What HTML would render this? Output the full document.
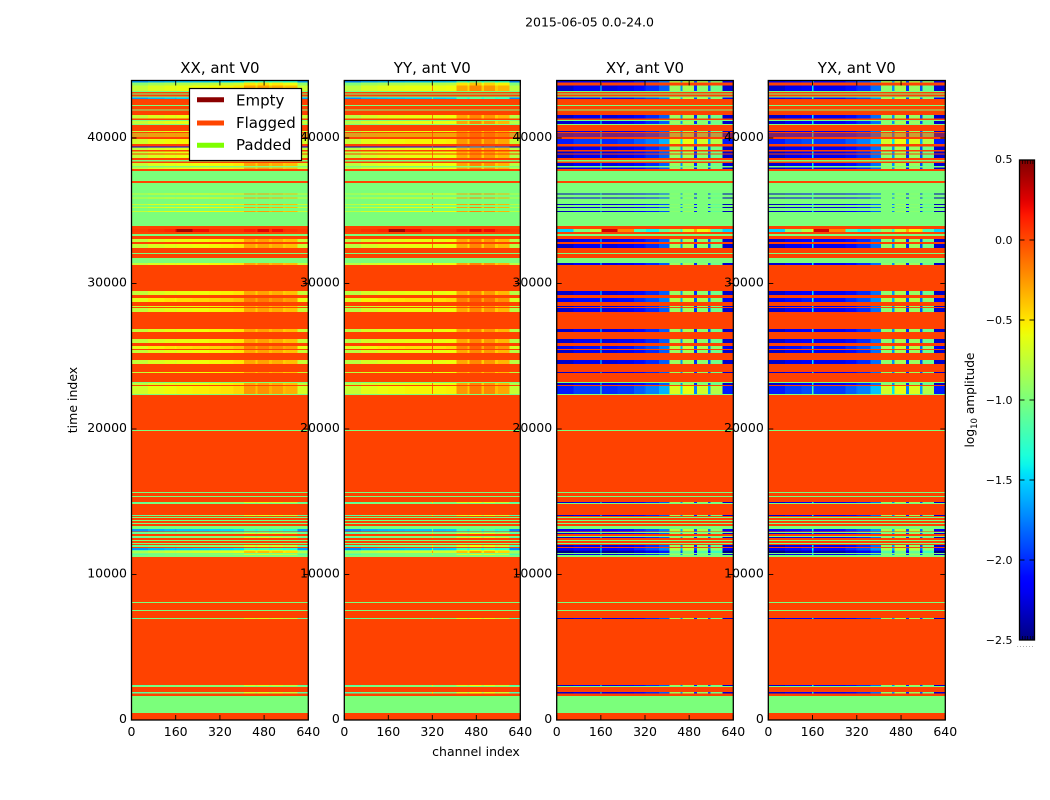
<!DOCTYPE html>
<html>
<head>
<meta charset="utf-8">
<title>2015-06-05 0.0-24.0</title>
<style>
html,body{margin:0;padding:0;background:#fff;width:1050px;height:800px;overflow:hidden}
svg{display:block}
text{font-family:"DejaVu Sans","Liberation Sans",sans-serif;fill:#000}
</style>
</head>
<body>
<svg id="fig" xmlns="http://www.w3.org/2000/svg" width="1050" height="800" viewBox="0 0 1050 800">
  <rect width="1050" height="800" fill="#fff"/>
  <text x="589.5" y="26.5" font-size="12.5" text-anchor="middle">2015-06-05 0.0-24.0</text>
  <g id="panels"></g>
  <text x="77" y="400" font-size="12.5" text-anchor="middle" transform="rotate(-90 77 400)">time index</text>
  <text x="476" y="756" font-size="12.5" text-anchor="middle">channel index</text>

  <g>
    <rect x="189.5" y="88.5" width="112" height="72" fill="#fff" stroke="#000" stroke-width="1.2"/>
    <line x1="197" x2="224" y1="99.7" y2="99.7" stroke="#8b0000" stroke-width="5"/>
    <text x="236" y="105.5" font-size="15">Empty</text>
    <line x1="197" x2="224" y1="123" y2="123" stroke="#ff4500" stroke-width="5"/>
    <text x="236" y="128" font-size="15">Flagged</text>
    <line x1="197" x2="224" y1="145.3" y2="145.3" stroke="#7fff00" stroke-width="5"/>
    <text x="236" y="150" font-size="15">Padded</text>
  </g>

  <defs><linearGradient id="jetRamp" x1="0" y1="1" x2="0" y2="0"></linearGradient></defs>
  <g id="colorbar"></g>
  <text x="974" y="400" font-size="12.2" text-anchor="middle" transform="rotate(-90 974 400)">log<tspan font-size="8.5" dy="3">10</tspan><tspan dy="-3"> amplitude</tspan></text>
</svg>
<script>
// ---- chart data ----
const panelTitles = ["XX, ant V0", "YY, ant V0", "XY, ant V0", "YX, ant V0"];
const timeTicks = [0, 10000, 20000, 30000, 40000];
const channelTicks = [0, 160, 320, 480, 640];
const colorbarTicks = [0.5, 0, -0.5, -1, -1.5, -2, -2.5];
const colorbarLabels = ["0.5", "0.0", "\u22120.5", "\u22121.0", "\u22121.5", "\u22122.0", "\u22122.5"];

// channel segment boundaries of the spectra below
const channelEdges = [0,60,120,158,163,220,280,318,323,370,408,448,456,498,508,548,558,600,640];

// log10 amplitude per channel segment, one typical spectrum per product
const xxSpectrum = [-0.74,-0.66,-0.62,-0.66,-0.6,-0.58,-0.56,-0.56,-0.54,-0.5,-0.3,-0.42,-0.28,-0.38,-0.32,-0.42,-0.38,-0.72];
const yySpectrum = [-0.78,-0.68,-0.64,-0.62,-0.62,-0.6,-0.6,-0.15,-0.6,-0.58,-0.3,-0.45,-0.2,-0.42,-0.25,-0.42,-0.35,-0.78];
const xySpectrum = [-2.3,-2.2,-2.2,-1.45,-2.25,-2.2,-2.1,-2.05,-2.0,-1.85,-0.9,-1.7,-0.85,-2.0,-0.95,-1.9,-1.05,-2.3];
const yxSpectrum = [-2.3,-2.2,-2.15,-1.45,-2.2,-2.2,-2.1,-2.05,-2.0,-1.8,-0.95,-1.7,-0.85,-2.0,-0.9,-1.9,-1.05,-2.3];
// the noisy row near t=33600
const noiseParallel = [0.05,0.08,0.12,0.2,0.42,0.2,0.1,0.1,0.08,0.08,0.15,0.1,0.25,0.1,0.2,0.1,0.08,0.05];
const noiseCross = [-1.5,-1,-0.8,-0.6,0.3,-0.2,-1.2,-1.2,-1.4,-1.1,-0.9,-1.3,-0.7,-0.3,-0.6,-0.5,-1.2,-1.5];

const flaggedValue = 0.02;
const paddedValue = -1.0;
// per-kind amplitude offsets: parallel hands, cross hands (null = flagged)
const kindParallel = {D:0, B:0.05, R:0.12, K:-0.1, T:0, C:-0.95, M:-1.5, G:-0.2, L:-0.38};
const kindCross = {D:0, B:0.25, R:0.1, K:-0.2, T:-0.05, C:0.1, M:0, G:null, L:0};

// time-index bands: [start time index, kind]; each band ends where the next starts
const bandRows = [
[0,"F"],[481,"P"],[1650,"F"],[1821,"L"],[1924,"F"],[2268,"P"],[2337,"L"],[2405,"F"],[6942,"L"],[7010,"F"],[7491,"P"],[7560,"F"],[8041,"P"],[8110,"F"],
[11203,"P"],[11340,"L"],[11409,"P"],[11478,"K"],[11615,"L"],[11684,"C"],[11822,"F"],[11890,"L"],[12028,"F"],[12096,"P"],[12165,"F"],[12302,"P"],[12371,"F"],[12509,"L"],[12577,"P"],[12646,"F"],[12784,"L"],[12852,"P"],[12921,"F"],[12955,"C"],[13127,"P"],[13334,"F"],[13471,"P"],[13540,"F"],[13677,"P"],[13746,"F"],[13883,"P"],[13952,"F"],[14021,"L"],[14090,"F"],[14845,"P"],[14914,"L"],[14983,"F"],[15327,"P"],[15395,"F"],[15602,"P"],[15670,"F"],[19863,"P"],[19932,"F"],
[22337,"P"],[22406,"B"],[22956,"F"],[23025,"D"],[23162,"P"],[23231,"F"],[23849,"D"],[23918,"F"],[24468,"D"],[24743,"F"],[25224,"D"],[25430,"F"],[25499,"R"],[25705,"F"],[25911,"D"],[26187,"F"],[26667,"D"],[26873,"F"],[28042,"D"],[28317,"F"],[28386,"D"],[28454,"F"],[28729,"R"],[29004,"F"],[29210,"D"],[29485,"F"],[31272,"D"],[31410,"P"],[31753,"F"],[32028,"P"],[32097,"F"],[32441,"D"],[32715,"F"],[32853,"D"],[33059,"F"],[33265,"P"],[33402,"F"],[33540,"N"],[33746,"F"],[33953,"P"],
[34915,"T"],[34984,"P"],[35190,"T"],[35258,"P"],[35396,"T"],[35465,"P"],[35842,"T"],[35911,"P"],[36118,"T"],[36186,"P"],[36908,"F"],[37045,"P"],[37732,"F"],[37870,"D"],[37960,"P"],[38076,"D"],[38283,"F"],[38372,"P"],[38489,"F"],[38626,"D"],[38853,"F"],[38949,"D"],[39087,"F"],[39176,"D"],[39361,"M"],[39430,"F"],[39588,"B"],[39932,"F"],[40090,"D"],[40159,"F"],[40255,"D"],[40324,"F"],[40413,"D"],[40482,"F"],[40894,"P"],[40963,"D"],[41169,"P"],[41238,"F"],[41354,"D"],[41582,"F"],[41905,"P"],[41974,"F"],[42200,"P"],[42269,"F"],[42681,"C"],[42771,"P"],[42839,"F"],[43003,"P"],[43072,"F"],[43162,"P"],[43231,"D"],[43595,"G"],[43802,"C"]
];
const timeMax = 43950;
const channelMax = 640;
const valueMin = -2.5;
const valueMax = 0.5;

// ---- layout ----
const panelLefts = [131.5, 344.3, 556.7, 768.3];
const panelRights = [308.3, 520.3, 733.3, 945.3];
const plotTop = 80.5, plotBottom = 720;
const barLeft = 1019.5, barRight = 1034.5, barTop = 160, barBottom = 640;
const NS = "http://www.w3.org/2000/svg";

function make(tag, attrs, parent) {
  const el = document.createElementNS(NS, tag);
  for (const k in attrs) el.setAttribute(k, attrs[k]);
  parent.appendChild(el);
  return el;
}
function clamp(v) { return Math.max(0, Math.min(1, v)); }
function interp(n, knots) {
  for (let i = 0; i < knots.length - 1; i++) {
    const a = knots[i], b = knots[i + 1];
    if (n <= b[0]) return a[1] + (b[1] - a[1]) * (n - a[0]) / (b[0] - a[0]);
  }
  return knots[knots.length - 1][1];
}
const jetRed = [[0,0],[0.35,0],[0.66,1],[0.89,1],[1,0.5]];
const jetGreen = [[0,0],[0.125,0],[0.375,1],[0.64,1],[0.91,0],[1,0]];
const jetBlue = [[0,0.5],[0.11,1],[0.34,1],[0.65,0],[1,0]];
function jet(value) {
  const n = clamp((value - valueMin) / (valueMax - valueMin));
  return "rgb(" + Math.round(interp(n, jetRed) * 255) + "," + Math.round(interp(n, jetGreen) * 255) + "," + Math.round(interp(n, jetBlue) * 255) + ")";
}
function yScale(t) { return plotBottom - (t / timeMax) * (plotBottom - plotTop); }
function xScale(p, ch) { return panelLefts[p] + (ch / channelMax) * (panelRights[p] - panelLefts[p]); }
function barY(v) { return barBottom - ((v - valueMin) / (valueMax - valueMin)) * (barBottom - barTop); }

const spectra = [xxSpectrum, yySpectrum, xySpectrum, yxSpectrum];
const panelsGroup = document.getElementById("panels");

function addCell(parent, x0, x1, y0, y1, value) {
  const r = make("rect", {x: x0, y: y1, width: x1 - x0, height: y0 - y1, fill: jet(value), "shape-rendering": "crispEdges"}, parent);
  
  
}

panelTitles.forEach(function (title, p) {
  const g = make("g", {}, panelsGroup);
  
  
  const isCross = p >= 2;
  const spec = spectra[p];
  bandRows.forEach(function (band, b) {
    const start = band[0], kind = band[1];
    const end = b + 1 < bandRows.length ? bandRows[b + 1][0] : timeMax;
    const y0 = yScale(start), y1 = yScale(end);
    const xa = xScale(p, 0), xb = xScale(p, channelMax);
    if (kind === "F") { addCell(g, xa, xb, y0, y1, flaggedValue); return; }
    if (kind === "P") { addCell(g, xa, xb, y0, y1, paddedValue); return; }
    if (kind !== "N" && (isCross ? kindCross[kind] : kindParallel[kind]) === null) { addCell(g, xa, xb, y0, y1, flaggedValue); return; }
    for (let s = 0; s < channelEdges.length - 1; s++) {
      let v;
      if (kind === "N") v = isCross ? noiseCross[s] : noiseParallel[s];
      else v = spec[s] + (isCross ? kindCross[kind] : kindParallel[kind]);
      addCell(g, xScale(p, channelEdges[s]), xScale(p, channelEdges[s + 1]), y0, y1, v);
    }
  });

  // spines
  const frame = make("rect", {x: xScale(p, 0), y: plotTop, width: xScale(p, channelMax) - xScale(p, 0), height: plotBottom - plotTop, fill: "none", stroke: "#000", "stroke-width": 1.3}, g);
  
  

  // title
  const tt = make("text", {x: (xScale(p, 0) + xScale(p, channelMax)) / 2, y: 73, "font-size": 15, "text-anchor": "middle"}, g);
  tt.textContent = title;
  
  

  // x ticks
  channelTicks.forEach(function (c) {
    const x = xScale(p, c);
    const t1 = make("line", {x1: x, x2: x, y1: plotBottom, y2: plotBottom - 5, stroke: "#000", "stroke-width": 0.9}, g);
    
    
    const t2 = make("line", {x1: x, x2: x, y1: plotTop, y2: plotTop + 5, stroke: "#000", "stroke-width": 0.9}, g);
    
    
    const l = make("text", {x: x, y: 736, "font-size": 12.5, "text-anchor": "middle"}, g);
    l.textContent = String(c);
    
    
  });
  // y ticks
  timeTicks.forEach(function (t) {
    const y = yScale(t);
    const t1 = make("line", {x1: xScale(p, 0), x2: xScale(p, 0) + 5, y1: y, y2: y, stroke: "#000", "stroke-width": 0.9}, g);
    
    
    const t2 = make("line", {x1: xScale(p, channelMax), x2: xScale(p, channelMax) - 5, y1: y, y2: y, stroke: "#000", "stroke-width": 0.9}, g);
    
    
  });
});

// y tick labels go on top of all panels (they overlap the neighbouring panel)
panelTitles.forEach(function (title, p) {
  timeTicks.forEach(function (t) {
    const l = make("text", {x: xScale(p, 0) - 4.5, y: yScale(t) + 3, "font-size": 12.5, "text-anchor": "end"}, panelsGroup);
    l.textContent = String(t);
    
    
  });
});

// colorbar
const ramp = document.getElementById("jetRamp");
for (let i = 0; i <= 60; i++) {
  const v = valueMin + (valueMax - valueMin) * i / 60;
  make("stop", {offset: (i / 60), "stop-color": jet(v)}, ramp);
}
const cb = document.getElementById("colorbar");
const cbRect = make("rect", {x: barLeft, y: barTop, width: barRight - barLeft, height: barBottom - barTop, fill: "url(#jetRamp)", stroke: "#000", "stroke-width": 1.3}, cb);


colorbarTicks.forEach(function (v, i) {
  const y = barY(v);
  const a = make("line", {x1: barLeft, x2: barLeft + 5, y1: y, y2: y, stroke: "#000", "stroke-width": 0.9}, cb);
  
  
  const b = make("line", {x1: barRight, x2: barRight - 5, y1: y, y2: y, stroke: "#000", "stroke-width": 0.9}, cb);
  
  
  const l = make("text", {x: 1012.5, y: y + (i === 0 ? 3 : 4), "font-size": 11, "text-anchor": "end"}, cb);
  l.textContent = colorbarLabels[i];
  
  
});
for (let i = 0; i < 5; i++) {
  const x = barLeft + 3 + i * 2.6;
  const top = make("line", {x1: x, x2: x, y1: barTop, y2: barTop + 4, stroke: "#000", "stroke-width": 0.7}, cb);
  
  
  const bot = make("line", {x1: x, x2: x, y1: barBottom, y2: barBottom - 4, stroke: "#000", "stroke-width": 0.7}, cb);
  
  
}
const dots = make("text", {x: 1017, y: 647, "font-size": 5, "letter-spacing": 1.3, fill: "#555"}, cb);
dots.textContent = "......";


</script>
</body>
</html>
